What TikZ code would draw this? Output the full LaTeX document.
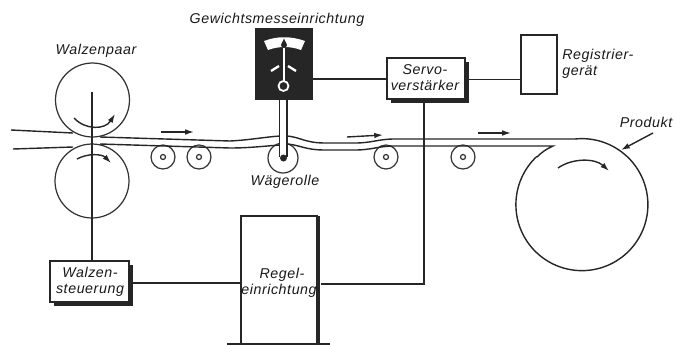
\documentclass[tikz,border=0pt]{standalone}
\usepackage{fontspec}
\setmainfont{Liberation Sans}[LetterSpace=4]
\usepackage{tikz}
\usetikzlibrary{arrows.meta,calc,positioning}

\tikzset{
    schild/.style={font=\fontsize{8.1}{9}\selectfont\itshape, inner sep=0pt, text=black!90, align=center},
    block/.style={draw=black!85, line width=0.8pt, fill=white, inner sep=0pt},
    schatten/.style={fill=black!85, inner sep=0pt},
    leitung/.style={line width=1pt, black!85},
    bahn/.style={line width=0.8pt, black!85},
    rolle/.style={circle, draw=black!80, line width=0.7pt, inner sep=0pt},
    pfeil/.style={line width=0.8pt, black!85, -{Latex[length=5pt,width=3.2pt]}}
}

\begin{document}
\begin{tikzpicture}[x=0.02cm, y=-0.02cm]
        \useasboundingbox (0,0) rectangle (674,345);

        % Rollers
        \node[rolle, minimum size=1.48cm] (walzeoben) at (92.5,100) {};
        \node[rolle, minimum size=1.48cm] (walzeunten) at (92,181) {};
        \node[rolle, minimum size=0.6cm] (waegerolle) at (283,158) {};
        \foreach \x/\name in {163/stuetza, 199/stuetzb, 386/stuetzc, 463/stuetzd} {
            \node[rolle, minimum size=0.48cm] (\name) at (\x,157) {};
            \node[rolle, minimum size=0.1cm] (\name k) at (\x,157) {};
        }

        % Web
        \draw[bahn] (11,130) -- (73,133) (100,137) -- (230,141)
            .. controls (250,140) and (265,137) .. (280,136);
        \draw[bahn] (287,136) .. controls (300,137) and (305,143) .. (325,143)
            -- (355,143) .. controls (372,143) and (378,139) .. (395,139)
            -- (575,139) arc[start angle=-96, end angle=227, radius=66];
        \draw[bahn] (13,149) -- (73,147) (100,144) -- (230,148)
            .. controls (250,148) and (265,146) .. (280,145);
        \draw[bahn] (287,144) .. controls (300,145) and (305,150) .. (325,150)
            -- (355,150) .. controls (372,150) and (378,146) .. (395,146)
            -- (553,146) .. controls (546,149) and (541,153) .. (537,157);

        % Meter housing
        \node[fill=black!85, minimum width=1.16cm, minimum height=1.44cm, inner sep=0pt] (messwerk) at (284,64) {};
        \fill[white] (264,41) .. controls (277,36) and (291,36) .. (305,41)
            -- (301,50) .. controls (290,46) and (279,46) .. (268,50) -- cycle;
        \draw[white, line width=1.3pt] (271,71) -- (279,66) (288,66) -- (296,71);
        \draw[white, line width=1.3pt] (284,81) -- (284,46);
        \fill[black!85] (284,38.5) .. controls (285,42) and (287,43) .. (287,45)
            .. controls (287,47) and (285,48) .. (284,48)
            .. controls (283,48) and (281,47) .. (281,45)
            .. controls (281,43) and (283,42) .. (284,38.5) -- cycle;
        \node[circle, draw=white, line width=1pt, minimum size=0.2cm, inner sep=0pt] (zeiger) at (283.5,86) {};
        \fill[white] (280,100) rectangle (287,157);
        \draw[leitung] (279.5,100) -- (279.5,157) (287,100) -- (287,157);
        \fill[black!85] (283.5,158) circle (3.5);

        % Motion arrows
        \draw[pfeil] (161,132) -- (194,132);
        \draw[pfeil] (347,137) -- (383,135);
        \draw[pfeil] (478,133) -- (511,133);
        \draw[pfeil] (74,118) .. controls (85,130) and (105,130) .. (115,114);
        \draw[pfeil] (77,159) .. controls (88,153) and (102,154) .. (111,163);
        \draw[pfeil] (558,168) .. controls (572,158) and (595,158) .. (609,171);
        \draw[pfeil] (653,133) -- (621,150);

        % Boxes
        \node[schatten, minimum width=1.58cm, minimum height=0.82cm] (steuerungschatten) at (93.5,285.5) {};
        \node[block, minimum width=1.58cm, minimum height=0.82cm] (steuerung) at (89.5,281.5) {};
        \node[schatten, minimum width=1.56cm, minimum height=0.82cm] (servoschatten) at (430,82.5) {};
        \node[block, minimum width=1.56cm, minimum height=0.82cm] (servo) at (426,78.5) {};
        \node[block, minimum width=0.72cm, minimum height=1.18cm] (registrier) at (539,64.5) {};
        \node[schatten, minimum width=1.52cm, minimum height=2.56cm] (reglerschatten) at (282.5,280) {};
        \node[block, minimum width=1.52cm, minimum height=2.56cm] (regler) at (279,280) {};
        \draw[bahn] (227,344) -- (330,344);

        % Connections
        \draw[leitung] (92,92) -- (steuerung.north -| 92,0);
        \draw[leitung] (steuerungschatten.east |- 0,283) -- (regler.west |- 0,283);
        \draw[leitung] (reglerschatten.east |- 0,284) -| (servoschatten.south -| 424,0);
        \draw[leitung] (messwerk.east |- 0,79) -- (servo.west |- 0,79);
        \draw[leitung] (servoschatten.east |- 0,79.5) -- (registrier.west |- 0,79.5);

        % Labels
        \node[schild] (lblwalzenpaar) at (96,51) {Walzenpaar};
        \node[schild] (lblgewicht) at (277,20) {Gewichtsmesseinrichtung};
        \node[schild] (lblwaege) at (285,182) {Wägerolle};
        \node[schild] (lblservo) at (425,78) {Servo-\\verstärker};
        \node[schild, align=left, anchor=west] (lblregistrier) at (562,64) {Registrier-\\gerät};
        \node[schild] (lblprodukt) at (646,122) {Produkt};
        \node[schild] (lblsteuerung) at (90,282) {Walzen-\\steuerung};
        \node[schild] (lblregler) at (279,283) {\hspace*{3.4pt}Regel-\\einrichtung};
\end{tikzpicture}
\end{document}
